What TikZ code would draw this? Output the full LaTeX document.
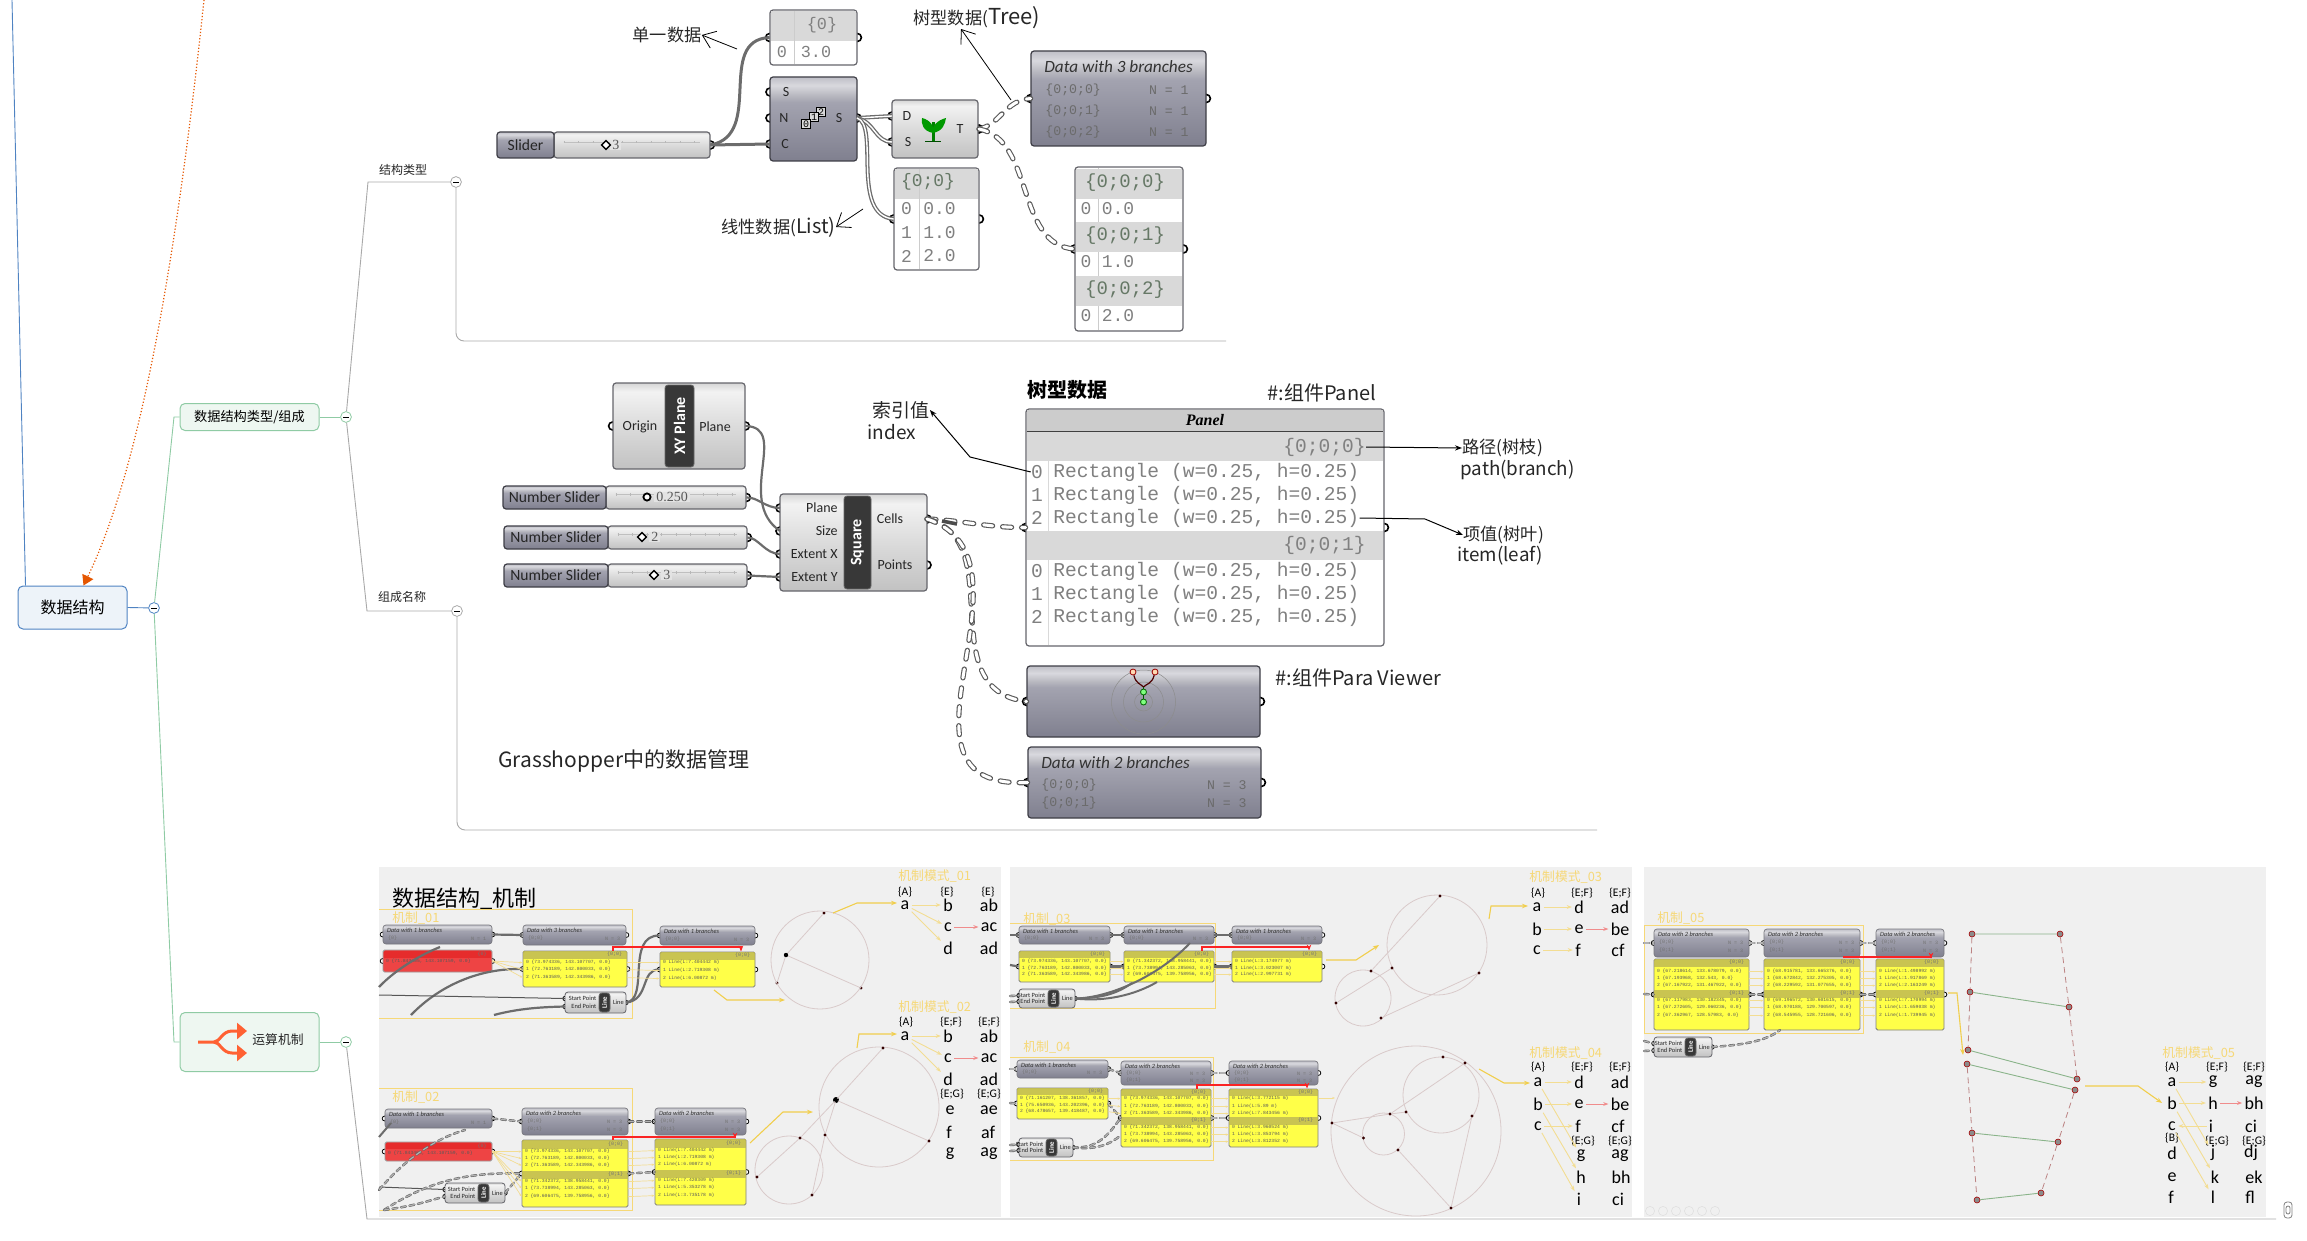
\documentclass[tikz,border=0pt]{standalone}
\usepackage{fontspec}
\setmainfont{Noto Sans CJK SC}
\setmonofont{Liberation Mono}
\newfontfamily\ghfont{Carlito}
\newfontfamily\serfont{Liberation Serif}
\usetikzlibrary{arrows.meta,calc,fit,positioning,shapes.geometric}

\definecolor{ghedge}{HTML}{3E3E46}
\definecolor{ghwirec}{HTML}{6C6C6C}
\definecolor{mapblue}{HTML}{4F83C2}
\definecolor{mapgreen}{HTML}{8FCBA4}
\definecolor{mapgray}{HTML}{A9A9A9}
\definecolor{mechyel}{HTML}{F6D877}
\definecolor{modeyel}{HTML}{F3DD92}
\definecolor{callyel}{HTML}{F1CE4C}
\definecolor{pinkc}{HTML}{F08C8C}
\definecolor{geomc}{HTML}{D9CACA}

\pgfdeclareverticalshading{ghgrayshade}{100bp}{rgb(0bp)=(.50,.50,.56); rgb(25bp)=(.50,.50,.56); rgb(60bp)=(.64,.64,.69); rgb(64bp)=(.72,.72,.75); rgb(70bp)=(.85,.85,.87); rgb(75bp)=(.75,.75,.78); rgb(100bp)=(.75,.75,.78)}
\pgfdeclareverticalshading{ghlightshade}{100bp}{rgb(0bp)=(.76,.76,.76); rgb(25bp)=(.76,.76,.76); rgb(50bp)=(.86,.86,.86); rgb(70bp)=(.95,.95,.95); rgb(75bp)=(.84,.84,.84); rgb(100bp)=(.84,.84,.84)}

\tikzset{
  ghfit/.style={rectangle,inner sep=0pt},
  ghgray/.style={draw=ghedge,line width=.6pt,rounded corners=1.5pt,shade,shading=ghgrayshade},
  ghlight/.style={draw=ghedge!80,line width=.6pt,rounded corners=1.5pt,shade,shading=ghlightshade},
  ghpanel/.style={draw=ghedge!80,line width=.6pt,rounded corners=1.5pt,fill=white},
  ghyellow/.style={draw=black!50,line width=.45pt,rounded corners=.8pt,fill={rgb,255:red,255;green,255;blue,72}},
  ghred/.style={draw=black!40,line width=.45pt,rounded corners=.8pt,fill={rgb,255:red,238;green,68;blue,68}},
  ghport/.style={draw=black,line width=.8pt,fill=white},
  ghstrip/.style={fill=black!78,draw=black!60,line width=.4pt,rounded corners=1.5pt},
  ghstriptxt/.style={text=white,font=\ghfont\bfseries\fontsize{8}{8}\selectfont,inner sep=0pt},
  ghlabel/.style={font=\ghfont\fontsize{7}{7}\selectfont,text=black!85,inner sep=0pt},
  ghmono/.style={font=\ttfamily\fontsize{8.4}{8.4}\selectfont,text=black!50,inner sep=0pt},
  ghhead/.style={fill=black!15},
  ghrowtxt/.style={font=\ttfamily\fontsize{2.35}{2.35}\selectfont,text=black!65,inner sep=0pt},
  ghtitle/.style={font=\ghfont\itshape\fontsize{3.2}{3.2}\selectfont,text=black!80,inner sep=0pt},
  ghmini/.style={font=\ttfamily\fontsize{2.5}{2.5}\selectfont,text=black!55,inner sep=0pt},
  ghbigtitle/.style={font=\ghfont\itshape\fontsize{8.6}{8.6}\selectfont,text=black!80,inner sep=0pt},
  ghbigrow/.style={font=\ttfamily\fontsize{6.6}{6.6}\selectfont,text=black!58,inner sep=0pt},
  ghmark/.style={circle,draw=black,line width=.9pt,fill=white,inner sep=0pt,minimum size=3.6pt},
  ghdiam/.style={diamond,draw=black,line width=.7pt,fill=white,inner sep=0pt,minimum size=4.6pt},
  ghval/.style={font=\serfont\fontsize{7}{7}\selectfont,text=black!65,inner xsep=1pt,inner ysep=0pt,fill=black!11},
  ghrail/.style={draw=black!25,line width=.3pt},
  ghticks/.style={draw=black!28,line width=1.4pt,dash pattern=on .25pt off 7pt},
  ghdig/.style={draw=black,line width=.5pt,fill=black!15,font=\ttfamily\fontsize{5}{5}\selectfont,inner sep=.6pt},
  ghwire/.style={draw=ghwirec,line width=1.5pt},
  ghthin/.style={draw=ghwirec!80!black,line width=.5pt},
  ghdouble/.style={draw=ghwirec,line width=.65pt,double=white,double distance=.7pt},
  ghdash/.style={draw=black!65,line width=.55pt,double=white,double distance=1.5pt,line cap=round,dash pattern=on 4.5pt off 5pt},
  ghmdash/.style={draw=black!60,line width=.3pt,double=white!70!black,double distance=.6pt,line cap=round,dash pattern=on 2.5pt off 1.8pt},
  bigtext/.style={inner sep=0pt,font=\fontsize{8.6}{8.6}\selectfont,text=black!85},
  callout/.style={draw=black,line width=.4pt,-{Straight Barb[length=6pt,width=9pt]}},
  calltip/.style={draw=black,line width=.5pt,-{Stealth[length=3.5pt]}},
  mapnode/.style={rectangle,rounded corners=2.5pt,line width=.5pt,inner sep=0pt},
  maproot/.style={mapnode,draw=mapblue,fill=mapblue!10,font=\fontsize{8}{8}\selectfont},
  mapsub/.style={mapnode,draw=mapgreen,fill=mapgreen!15,font=\fontsize{6.6}{6.6}\selectfont},
  maptxt/.style={inner sep=0pt,font=\fontsize{6}{6}\selectfont,text=black!85},
  mapball/.style={circle,fill=white,draw=#1,line width=.4pt,inner sep=0pt,minimum size=5.4pt},
  mapline/.style={draw=#1,line width=.45pt},
  mechframe/.style={draw=mechyel,line width=.5pt},
  mechlabel/.style={inner sep=0pt,font=\fontsize{6.4}{6.4}\selectfont,text=mechyel,anchor=west},
  modelabel/.style={inner sep=0pt,font=\fontsize{6.4}{6.4}\selectfont,text=mechyel,anchor=west},
  modetxt/.style={inner sep=1pt,font=\ghfont\fontsize{9}{9}\selectfont},
  modehead/.style={inner sep=0pt,font=\ghfont\fontsize{5.8}{5.8}\selectfont},
  modearrow/.style={draw=modeyel,line width=.45pt,-{Stealth[length=2.6pt]}},
  modepink/.style={draw=pinkc,line width=.5pt,-{Stealth[length=2.6pt]}},
  ythin/.style={draw=modeyel,line width=.35pt,-{Stealth[length=1.5pt]}},
  callyellow/.style={draw=callyel,line width=.55pt,-{Stealth[length=3pt]}},
  redlink/.style={draw=red!75!pinkc,line width=.7pt,-{Stealth[length=3pt]}},
  geomline/.style={draw=geomc,line width=.4pt},
  geompt/.style={circle,fill=#1,inner sep=0pt,minimum size=1.6pt},
  geompt/.default=black!80!red,
  netpt/.style={circle,draw=red!65!black,fill=black!45,line width=.3pt,inner sep=0pt,minimum size=3pt},
  netgreen/.style={draw=green!22!gray!75,line width=.45pt},
  netpink/.style={draw=red!30!gray!75,line width=.4pt,densely dashed},
  toolcirc/.style={circle,draw=black!12,line width=.3pt,inner sep=0pt,minimum size=4.6pt},
}

\newcommand{\ghportr}{4}
\newcommand{\ghnode}[6]{
  \node[ghfit,fit={(#3,#4)(#5,#6)}] (#2) {};
  \draw[ghport] (#2.west) circle (\ghportr) (#2.east) circle (\ghportr);
  \node[ghfit,#1,fit={(#3,#4)(#5,#6)}] (#2box) {};
}
\newcommand{\ghdata}[6]{
  \ghnode{ghgray}{#1}{#2}{#3}{#4}{#5}
  \node[ghtitle,anchor=west] (#1t) at ($(#1.north west)+(4,6)$) {#6};
}
\newcommand{\ghdrow}[4]{
  \node[ghmini,anchor=west] (#1a#2) at ($(#1.north west)+(5,#2)$) {#3};
  \node[ghmini,anchor=east] (#1b#2) at ($(#1.north east)+(-6,#2)$) {#4};
}
\newcommand{\ghband}[4]{
  \fill[black!35!yellow!85!white,opacity=.8] ($(#1.north west)+(.6,#2)$) rectangle ($(#1.north east)+(-.6,#3)$);
  \node[ghmini,anchor=east] (#1h#2) at ($(#1.north east)+(-5,{(#2+#3)/2})$) {#4};
}
\newcommand{\ghrows}[2]{
  \foreach \lab/\off [count=\i] in {#2}
    \node[ghrowtxt,anchor=west] (#1r\i) at ($(#1.north west)+(3,\off)$) {\lab};
}
\newcommand{\ghline}[5]{
  \coordinate (#1s) at (#2,{#3+6.5});
  \coordinate (#1e) at (#2,{#5-6.5});
  \coordinate (#1o) at (#4,{(#3+#5)/2});
  \draw[ghport,line width=.4pt] (#1s) circle (2.2) (#1e) circle (2.2) (#1o) circle (2.2);
  \node[ghfit,ghlight,line width=.4pt,fit={(#2,#3)(#4,#5)}] (#1) {};
  \node[ghfit,ghstrip,fit={({#4-27},{#3+1})({#4-16},{#5-1})}] (#1k) {};
  \node[text=white,inner sep=0pt,rotate=90,font=\ghfont\bfseries\fontsize{3.4}{3.4}\selectfont] (#1l) at (#1k.center) {Line};
  \coordinate (#1u) at ($(#1k.west)+(-2,0)$);
  \node[ghlabel,anchor=east,font=\ghfont\fontsize{3.2}{3.2}\selectfont] (#1a) at (#1u |- #1s) {Start Point};
  \node[ghlabel,anchor=east,font=\ghfont\fontsize{3.2}{3.2}\selectfont] (#1b) at (#1u |- #1e) {End Point};
  \node[ghlabel,font=\ghfont\fontsize{3.2}{3.2}\selectfont] (#1c) at ($(#1k.east)!.5!(#1.east)$) {Line};
}
\newcommand{\ghslider}[7]{
  \ghnode{ghlight}{#1}{#3}{#5}{#4}{#6}
  \draw[ghrail] ($(#1.west)+(10,-3)$) -- ($(#1.east)+(-10,-3)$);
  \draw[ghticks] ($(#1.west)+(10,-3)$) -- ($(#1.east)+(-10,-3)$);
  \node[ghfit,ghgray,fit={(#2,#5)(#3,#6)}] (#1n) {};
  \node[ghlabel,font=\ghfont\fontsize{7.8}{7.8}\selectfont] (#1x) at (#1n.center) {#7};
}

\begin{document}
\begin{tikzpicture}[x=.5pt,y=-.5pt]
\useasboundingbox (0,0) rectangle (2307,1241);

\node[maproot,minimum width=54.5pt,minimum height=21.5pt] (root) at (72.5,607.5) {数据结构};
\node[mapsub,minimum width=69.5pt,minimum height=13.5pt] (typenode) at (249.5,417) {数据结构类型/组成};
\node[mapsub,minimum width=69.5pt,minimum height=29.5pt] (calcnode) at (249.5,1042) {};
\node[maptxt,font=\fontsize{6.4}{6.4}\selectfont] (calctxt) at (278,1040) {运算机制};
\node[mapball=mapblue] (ballroot) at (154,608) {\rule{3pt}{.3pt}};
\node[mapball=mapgreen] (balltype) at (346,417) {\rule{3pt}{.3pt}};
\node[mapball=mapgreen] (ballcalc) at (346,1042) {\rule{3pt}{.3pt}};
\node[mapball=mapgray] (ballstruct) at (456,182) {\rule{3pt}{.3pt}};
\node[mapball=mapgray] (ballname) at (457,611) {\rule{3pt}{.3pt}};
\node[maptxt] (structtxt) at (403,170) {结构类型};
\node[maptxt] (nametxt) at (402,597) {组成名称};

\coordinate (bluetop) at (12,0);
\coordinate (dottop) at (204,0);
\coordinate (jt) at (174,417);
\coordinate (jb) at (174,1042);
\coordinate (js) at (368,182);
\coordinate (jn) at (367,611);
\coordinate (jc) at (367,1219);
\coordinate (es) at (1226,341);
\coordinate (en) at (1597,830);
\coordinate (ec) at (2276,1219);
\draw[mapline=mapblue] (bluetop) -- ($(root.north west)+(8,0)$);
\draw[draw=orange!75!red!90!black,line width=.6pt,densely dotted,-{Triangle[length=5pt,width=6pt]}] (dottop) .. controls (165,370) and (120,510) .. ($(root.north west)+(66,0)$);
\draw[mapline=mapblue] (root.east) -- (ballroot);
\draw[mapline=mapgreen] (ballroot) -- (jt) -- (typenode.west);
\draw[mapline=mapgreen] (ballroot) -- (jb) -- (calcnode.west);
\draw[mapline=mapgreen] (typenode.east) -- (balltype);
\draw[mapline=mapgreen] (calcnode.east) -- (ballcalc);
\draw[mapline=mapgray] (balltype) -- (js) -- (ballstruct);
\draw[mapline=mapgray] (balltype) -- (jn) -- (ballname);
\draw[mapline=mapgray] (ballcalc) -- (jc) -- (ec);
\draw[mapline=mapgray,rounded corners=4pt] (ballstruct) |- (es);
\draw[mapline=mapgray,rounded corners=4pt] (ballname) |- (en);

\coordinate (ica) at (198,1042);
\coordinate (icb) at (214,1042);
\coordinate (icc) at (247,1031);
\coordinate (icd) at (247,1053);
\draw[draw=red!55!orange!80!white,line width=1.5pt,-{Triangle[length=5pt,width=8pt]}] (ica) -- (icb) .. controls (220,1042) and (222,1031) .. (232,1031) -- (icc);
\draw[draw=red!55!orange!80!white,line width=1.5pt,-{Triangle[length=5pt,width=8pt]}] (icb) .. controls (220,1042) and (222,1053) .. (232,1053) -- (icd);

% structure types
\ghslider{sl}{497}{554}{710}{132}{158}{Slider}
\node[ghval,right=2pt of {606,145}] (slv) {3};
\node[ghdiam] (slm) at (606,145) {};

\ghnode{ghpanel}{pz}{770}{10}{857}{65}
\fill[ghhead] (770.6,10.6) rectangle (856.4,41);
\draw[black!20,line width=.3pt] (794,11) -- (794,64);
\node[ghmono] (pzh) at (822,25) {\{0\}};
\node[ghmono] (pzi) at (782,52) {0};
\node[ghmono] (pzv) at (816,52) {3.0};

\coordinate (serS) at (770,92);
\coordinate (serN) at (770,118);
\coordinate (serC) at (770,144);
\coordinate (serO) at (857,118);
\draw[ghport] (serS) circle (\ghportr) (serN) circle (\ghportr) (serC) circle (\ghportr) (serO) circle (\ghportr);
\node[ghfit,ghgray,fit={(770,77)(857,161)}] (series) {};
\node[ghlabel] (serlS) at (786,92) {S};
\node[ghlabel] (serlN) at (784,118) {N};
\node[ghlabel] (serlC) at (785,144) {C};
\node[ghlabel] (serlO) at (839,118) {S};
\node[ghdig] (dig2) at (821,112) {2};
\node[ghdig] (dig1) at (814,117) {1};
\node[ghdig] (dig0) at (806,124) {0};

\coordinate (grD) at (892,116);
\coordinate (grS) at (892,142);
\coordinate (grT) at (979,129);
\draw[ghport] (grD) circle (\ghportr) (grS) circle (\ghportr) (grT) circle (\ghportr);
\node[ghfit,ghlight,fit={(892,100)(978,158)}] (graft) {};
\node[ghlabel] (grlD) at (907,116) {D};
\node[ghlabel] (grlS) at (908,142) {S};
\node[ghlabel] (grlT) at (960,129) {T};
\fill[green!50!black] (931.5,122) rectangle (934.5,141);
\fill[green!60!black] (933,133) .. controls (923,131) and (921,124) .. (922,118) .. controls (930,120) and (935,126) .. (933,133);
\fill[green!60!black] (933,133) .. controls (943,131) and (945,124) .. (946,118) .. controls (938,120) and (931,126) .. (933,133);
\fill[green!30!black] (925,141) rectangle (941,142.5);

\ghnode{ghgray}{dthree}{1031}{51}{1206}{146}
\node[ghbigtitle,anchor=west] (dthreet) at (1044,67) {Data with 3 branches};
\foreach \lab [count=\i] in {0,1,2} {
  \node[ghbigrow,anchor=west] (dthreea\i) at (1045,{69+21*\i}) {\{0;0;\lab\}};
  \node[ghbigrow,anchor=east] (dthreeb\i) at (1189,{69+21*\i}) {N = 1};
}

\ghnode{ghpanel}{plist}{894}{168}{979}{270}
\fill[ghhead] (894.6,168.6) rectangle (978.4,199);
\draw[black!20,line width=.3pt] (919,169) -- (919,269);
\node[ghmono,font=\ttfamily\fontsize{9}{9}\selectfont,text=green!12!black!60] (plisth) at (928,182) {\{0;0\}};
\foreach \lab/\y [count=\i] in {0/209,1/233,2/256} {
  \node[ghmono,font=\ttfamily\fontsize{9}{9}\selectfont] (plisti\i) at (906.5,\y) {\lab};
  \node[ghmono,font=\ttfamily\fontsize{9}{9}\selectfont] (plistv\i) at (939.5,\y) {\lab.0};
}

\ghnode{ghpanel}{ptree}{1075}{167}{1183}{331}
\draw[black!20,line width=.3pt] (1098.5,168) -- (1098.5,330);
\foreach \lab/\y [count=\i] in {0/169,1/222,2/276} {
  \fill[ghhead] (1075.6,\y) rectangle (1182.4,{\y+30});
  \node[ghmono,font=\ttfamily\fontsize{9.5}{9.5}\selectfont,text=green!12!black!60] (ptreeh\i) at (1125,{\y+14}) {\{0;0;\lab\}};
  \node[ghmono,font=\ttfamily\fontsize{9}{9}\selectfont] (ptreei\i) at (1086,{\y+40}) {0};
  \node[ghmono,font=\ttfamily\fontsize{9}{9}\selectfont] (ptreev\i) at (1118,{\y+40}) {\lab.0};
}

\draw[ghwire] (sl.east) -- (serC);
\draw[ghwire] (sl.east) .. controls (765,135) and (715,40) .. (pz.west);
\draw[ghdouble] (serO) -- (grD);
\draw[ghdouble] (serO) .. controls (875,122) and (875,142) .. (grS);
\draw[ghdouble] (serO) .. controls (880,125) and (850,215) .. (plist.west);
\draw[ghdash] (grT) .. controls (1000,125) and (1005,100) .. (dthree.west);
\draw[ghdash] (grT) .. controls (1035,140) and (1015,245) .. (ptree.west);

\node[bigtext] (singletxt) at (667,35) {单一数据};
\node[bigtext,anchor=west] (treetxt) at (913,18) {树型数据(\fontsize{11}{11}\selectfont Tree)};
\node[bigtext,anchor=west] (listtxt) at (721,227) {线性数据(\fontsize{10}{10}\selectfont List)};
\coordinate (singlefrom) at (737,49);
\coordinate (treefrom) at (1011,100);
\coordinate (treeto) at (961,29);
\coordinate (listfrom) at (863,209);
\draw[callout] (singlefrom) -- (singletxt.east);
\draw[callout] (treefrom) -- (treeto);
\draw[callout] (listfrom) -- (listtxt.east);

% component names
\ghnode{ghlight}{xy}{613}{383}{745}{469}
\node[ghfit,ghstrip,fit={(665,385)(694,467)}] (xyk) {};
\node[ghstriptxt,rotate=90] (xyl) at (xyk.center) {XY Plane};
\node[ghlabel] (xya) at (640,427) {Origin};
\node[ghlabel] (xyb) at (715,427) {Plane};

\ghslider{sa}{503}{606}{746}{486}{509}{Number Slider}
\node[ghval,anchor=west] (sav) at (654,497) {0.250};
\node[ghmark] (sam) at (647,497) {};
\ghslider{sb}{504}{608}{747}{526}{549}{Number Slider}
\node[ghval,anchor=west] (sbv) at (649,537) {2};
\node[ghdiam] (sbm) at (642,537) {};
\ghslider{sc}{504}{608}{747}{564}{587}{Number Slider}
\node[ghval,anchor=west] (scv) at (661,575) {3};
\node[ghdiam] (scm) at (654,575) {};

\coordinate (sqP) at (780,508);
\coordinate (sqS) at (780,531);
\coordinate (sqX) at (780,554);
\coordinate (sqY) at (780,577);
\coordinate (sqC) at (927,519);
\coordinate (sqO) at (927,565);
\draw[ghport] (sqP) circle (\ghportr) (sqS) circle (\ghportr) (sqX) circle (\ghportr) (sqY) circle (\ghportr) (sqC) circle (\ghportr) (sqO) circle (\ghportr);
\node[ghfit,ghlight,fit={(780,494)(927,591)}] (square) {};
\node[ghfit,ghstrip,fit={(844,496)(871,589)}] (squarek) {};
\node[ghstriptxt,rotate=90] (squarel) at (squarek.center) {Square};
\foreach \lab/\y [count=\i] in {Plane/508,Size/531,Extent X/554,Extent Y/577}
  \node[ghlabel,anchor=east] (sql\i) at (838,\y) {\lab};
\node[ghlabel] (sqlC) at (890,519) {Cells};
\node[ghlabel] (sqlO) at (895,565) {Points};

\draw[ghwire,line width=1.1pt] (xy.east) .. controls (790,427) and (735,500) .. (sqS);
\draw[ghwire,line width=1.1pt] (sa.east) .. controls (758,497) and (765,508) .. (sqP);
\draw[ghwire,line width=1.1pt] (sb.east) .. controls (758,537) and (765,554) .. (sqX);
\draw[ghwire,line width=1.1pt] (sc.east) -- (sqY);

\ghnode{ghpanel}{pn}{1026}{409}{1384}{646}
\fill[black!20] (1026.6,409.6) rectangle (1383.4,431);
\draw[black!75,line width=1pt] (1026.6,431.5) -- (1383.4,431.5);
\draw[black!15,line width=.3pt] (1048,432) -- (1048,645);
\fill[ghhead] (1026.6,432) rectangle (1383.4,461);
\fill[ghhead] (1026.6,531) rectangle (1383.4,560);
\node[inner sep=0pt,font=\serfont\bfseries\itshape\fontsize{8}{8}\selectfont] (pntitle) at (1205,420) {Panel};
\node[ghmono,font=\ttfamily\fontsize{9.8}{9.8}\selectfont,anchor=east] (pnh) at (1366,447) {\{0;0;0\}};
\node[ghmono,font=\ttfamily\fontsize{9.8}{9.8}\selectfont,anchor=east] (pnk) at (1366,545) {\{0;0;1\}};
\foreach \lab/\y [count=\i] in {0/472,1/495,2/518,0/571,1/594,2/617} {
  \node[ghmono,font=\ttfamily\fontsize{9.8}{9.8}\selectfont] (pni\i) at (1037,\y) {\lab};
  \node[ghmono,font=\ttfamily\fontsize{9.8}{9.8}\selectfont,anchor=west] (pnr\i) at (1053,\y) {Rectangle (w=0.25, h=0.25)};
}

\ghnode{ghgray}{vw}{1027}{666}{1260}{737}
\foreach \r [count=\i] in {32,20,9}
  \draw[draw=black!45,line width=.25pt] (1143.5,702) circle (\r);
\node[circle,draw=red!60!black,fill=orange!30,line width=.4pt,inner sep=0pt,minimum size=3pt] (vwa) at (1133,672) {};
\node[circle,draw=red!60!black,fill=orange!30,line width=.4pt,inner sep=0pt,minimum size=3pt] (vwb) at (1155,672) {};
\coordinate (vwj) at (1143.5,687);
\node[circle,draw=green!40!black,fill=green!50,line width=.4pt,inner sep=0pt,minimum size=3pt] (vwc) at (1143.5,692) {};
\node[circle,draw=green!40!black,fill=green!50,line width=.4pt,inner sep=0pt,minimum size=3pt] (vwd) at (1143.5,702) {};
\draw[black!70!red,line width=.6pt] (vwa) .. controls (1136,684) and (1141,684) .. (vwj) .. controls (1146,684) and (1152,684) .. (vwb);
\draw[green!35!black,line width=.6pt] (vwj) -- (vwc) -- (vwd);

\ghnode{ghgray}{dt}{1028}{747}{1261}{818}
\node[ghbigtitle,anchor=west] (dtt) at (1041,763) {Data with 2 branches};
\foreach \lab/\y [count=\i] in {0/785,1/803} {
  \node[ghbigrow,anchor=west] (dta\i) at (1041,\y) {\{0;0;\lab\}};
  \node[ghbigrow,anchor=east] (dtb\i) at (1247,\y) {N = 3};
}

\draw[ghdash] (sqC) .. controls (960,520) and (990,528) .. (pn.west);
\draw[ghdash] (sqC) .. controls (1010,540) and (930,690) .. (vw.west);
\draw[ghdash] (sqC) .. controls (1050,560) and (870,790) .. (dt.west);
\coordinate (cellsa) at (942,521);
\coordinate (cellsb) at (957,524);
\draw[draw=black!70,line width=1.8pt] (cellsa) -- (cellsb);

\node[inner sep=0pt,font=\bfseries\fontsize{10}{10}\selectfont] (treehead) at (1067,390) {树型数据};
\node[bigtext,font=\fontsize{10}{10}\selectfont,anchor=west] (panelnote) at (1267,393) {\#:组件Panel};
\node[bigtext,font=\fontsize{10}{10}\selectfont,anchor=west] (viewnote) at (1275,678) {\#:组件Para Viewer};
\node[bigtext,font=\fontsize{10.5}{10.5}\selectfont,anchor=west] (ghnote) at (498,761) {Grasshopper中的数据管理};
\node[bigtext,font=\fontsize{9.5}{9.5}\selectfont] (idxa) at (901,410) {索引值};
\node[bigtext,font=\fontsize{9.5}{9.5}\selectfont,anchor=west] (idxb) at (867,432) {index};
\node[bigtext,anchor=west] (patha) at (1462,448) {路径(树枝)};
\node[bigtext,font=\fontsize{9.4}{9.4}\selectfont,anchor=west] (pathb) at (1460,470) {path(branch)};
\node[bigtext,anchor=west] (itema) at (1463,535) {项值(树叶)};
\node[bigtext,font=\fontsize{9.4}{9.4}\selectfont,anchor=west] (itemb) at (1457,556) {item(leaf)};
\coordinate (idxbend) at (970,457);
\coordinate (itembend) at (1425,519);
\draw[calltip] (pni1.west) -- (idxbend) -- (idxa.east);
\draw[calltip] (pnh.east) -- (patha.west);
\draw[calltip] (pnr3.east) -- (itembend) -- (itema.west);

% mechanism boards
\fill[black!6] (379,867) rectangle (1001,1217);
\fill[black!6] (1010,867) rectangle (1632,1217);
\fill[black!6] (1644,867) rectangle (2266,1217);
\node[inner sep=0pt,font=\fontsize{11}{11}\selectfont,anchor=west] (mechtitle) at (392,899) {数据结构\_机制};
\renewcommand{\ghportr}{2.4}
\tikzset{ghgray/.append style={line width=.35pt,draw=ghedge!70},ghport/.append style={line width=.4pt}}

% board 1
\draw[mechframe] (379,909) -- (632,909) -- (632,1018) -- (379,1018);
\node[mechlabel] (ml1) at (392,918) {机制\_01};
\ghdata{ma}{383}{925}{492}{944}{Data with 1 branches}
\ghdrow{ma}{14}{\{0\}}{N = 1}
\ghnode{ghred}{mb}{383}{950}{492}{972}
\fill[black!15!red,opacity=.35] (383.6,950.6) rectangle (491.4,958);
\node[ghmini,anchor=east] (mbh) at (487,954) {\{0\}};
\ghrows{mb}{{0 \{71.843465, 143.107159, 0.0\}}/12}
\ghdata{mc}{523}{925}{626}{945}{Data with 3 branches}
\ghdrow{mc}{14}{\{0;0\}}{N = 3}
\ghnode{ghyellow}{md}{523}{951}{627}{987}
\ghband{md}{0}{8}{\{0;0\}}
\ghrows{md}{{0 \{73.974336, 143.107707, 0.0\}}/12,{1 \{72.763189, 142.800033, 0.0\}}/19,{2 \{71.363589, 142.343986, 0.0\}}/27}
\ghdata{me}{660}{926}{755}{945}{Data with 1 branches}
\ghdrow{me}{14}{\{0;0\}}{N = 3}
\ghnode{ghyellow}{mf}{660}{952}{755}{987}
\ghband{mf}{0}{8}{\{0;0\}}
\ghrows{mf}{{0 Line(L:7.404442 m)}/11,{1 Line(L:2.719308 m)}/19,{2 Line(L:6.00872 m)}/27}
\ghline{mg}{565}{992}{626}{1013}
\coordinate (mwa) at (379,987);
\coordinate (mwb) at (440,947);
\coordinate (mwc) at (411,1015);
\coordinate (mwd) at (379,995);
\coordinate (mwe) at (494,1015);
\draw[ghwire,line width=1.1pt] (ma.east) -- (mc.west);
\draw[ghwire,line width=1.1pt] (mwa) .. controls (395,970) and (420,955) .. (mwb);
\draw[ghwire,line width=1.1pt] (mwc) .. controls (440,985) and (480,968) .. (md.west);
\draw[ghthin] (mwd) -- (mgs);
\draw[ghwire,line width=1.1pt] (mwe) .. controls (520,1008) and (545,1007) .. (mge);
\draw[ghwire,line width=1.1pt] (mgo) .. controls (650,1000) and (625,935) .. (me.west);
\draw[ghwire,line width=1.1pt] (mgo) .. controls (650,1000) and (640,969) .. (mf.west);
\foreach \i in {1,2,3} {
  \draw[ythin] (mb.east) -- (md.west |- mdr\i);
  \draw[ythin] (md.east |- mdr\i) -- (mf.west |- mfr\i);
}
\coordinate (mra) at (613,947);
\coordinate (mrb) at (741,947);
\draw[redlink] (mra |- md.north) -- (mra) -- (mrb) -- (mrb |- mf.north);
\node[geompt] (qa) at (786,955) {};
\node[geompt] (qb) at (824,913) {};
\node[geompt] (qc) at (777,983) {};
\node[geompt] (qd) at (861,988) {};
\draw[geomline] (820,960) circle (49);
\draw[geomline] (qa) -- (qb) (qa) -- (qc) (qa) -- (qd);
\fill[black] (qa) circle (2.2);
\draw[callyellow] (714,990) -- (727,1000) -- (785,1000);
\draw[callyellow] (833,913) -- (857,903) -- (897,903);
\node[modelabel] (mt1) at (898,876) {机制模式\_01};
\foreach \n/\lab/\x in {a/\{A\}/905,b/\{E\}/947,c/\{E\}/988}
  \node[modehead] (o1h\n) at (\x,892) {\lab};
\foreach \n/\x/\y in {a/905/905,b/948/905,c/948/927,d/948/948,ab/989/905,ac/989/927,ad/989/948}
  \node[modetxt] (o1\n) at (\x,\y) {\n};
\draw[modearrow] (o1a) -- (o1b);
\draw[modearrow] (o1a) -- (o1c);
\draw[modearrow] (o1a) -- (o1d);
\draw[modepink] (o1c) -- (o1ac);

% board 2
\draw[mechframe] (379,1088) -- (632,1088) -- (632,1210) -- (379,1210);
\node[mechlabel] (ml2) at (392,1097) {机制\_02};
\ghdata{na}{385}{1109}{492}{1128}{Data with 1 branches}
\ghdrow{na}{14}{\{0\}}{N = 1}
\ghnode{ghred}{nb}{385}{1142}{492}{1161}
\fill[black!15!red,opacity=.35] (385.6,1142.6) rectangle (491.4,1149);
\node[ghmini,anchor=east] (nbh) at (487,1146) {\{0\}};
\ghrows{nb}{{0 \{71.843465, 143.107159, 0.0\}}/12}
\ghdata{nc}{522}{1108}{628}{1135}{Data with 2 branches}
\ghdrow{nc}{14}{\{0;0\}}{N = 3}
\ghdrow{nc}{22}{\{0;1\}}{N = 3}
\ghnode{ghyellow}{nd}{522}{1140}{628}{1207}
\ghband{nd}{0}{9}{\{0;0\}}
\ghband{nd}{31}{39}{\{0;1\}}
\ghrows{nd}{{0 \{73.974336, 143.107707, 0.0\}}/12,{1 \{72.763189, 142.800033, 0.0\}}/19,{2 \{71.363589, 142.343986, 0.0\}}/26,{0 \{71.342372, 138.958441, 0.0\}}/42,{1 \{73.738994, 143.285063, 0.0\}}/49,{2 \{69.606475, 139.758956, 0.0\}}/57}
\ghdata{ne}{655}{1108}{746}{1135}{Data with 2 branches}
\ghdrow{ne}{14}{\{0;0\}}{N = 3}
\ghdrow{ne}{22}{\{0;1\}}{N = 3}
\ghnode{ghyellow}{nf}{655}{1139}{746}{1205}
\ghband{nf}{0}{9}{\{0;0\}}
\ghband{nf}{31}{39}{\{0;1\}}
\ghrows{nf}{{0 Line(L:7.404442 m)}/12,{1 Line(L:2.719308 m)}/19,{2 Line(L:6.00872 m)}/26,{0 Line(L:7.420309 m)}/42,{1 Line(L:5.353278 m)}/49,{2 Line(L:3.735178 m)}/57}
\ghline{ng}{445}{1183}{505}{1203}
\coordinate (nwa) at (379,1187);
\coordinate (nwb) at (384,1210);
\coordinate (nwc) at (379,1190);
\coordinate (nwd) at (465,1130);
\coordinate (nwe) at (379,1137);
\coordinate (nwf) at (391,1123);
\draw[ghthin] (nwa) -- (ngs);
\draw[ghwire,line width=1pt] (nwe) -- (nwf);
\draw[ghmdash] (nwb) .. controls (430,1180) and (470,1172) .. (nd.west);
\draw[ghmdash] (nwc) .. controls (400,1165) and (430,1140) .. (nwd);
\draw[ghmdash] (nwb) .. controls (420,1205) and (430,1200) .. (nge);
\draw[ghmdash] (na.east) -- (nc.west);
\draw[ghmdash] (nc.east) -- (ne.west);
\draw[ghmdash] (ngo) -- (nd.west);
\draw[ghmdash] (nd.east) -- (nf.west);
\foreach \i in {1,2,3,4,5,6} {
  \draw[ythin] (nb.east) -- (nd.west |- ndr\i);
  \draw[ythin] (nd.east |- ndr\i) -- (nf.west |- nfr\i);
}
\coordinate (nra) at (613,1137);
\coordinate (nrb) at (735,1137);
\draw[redlink] (nra |- nd.north) -- (nra) -- (nrb) -- (nrb |- nf.north);
\draw[geomline] (879,1107) circle (60);
\draw[geomline] (789,1170) circle (34);
\node[geompt] (ra) at (836,1100) {};
\node[geompt] (rb) at (883,1048) {};
\node[geompt] (rc) at (929,1141) {};
\node[geompt] (rd) at (825,1135) {};
\node[geompt] (re) at (800,1138) {};
\node[geompt] (rf) at (757,1177) {};
\node[geompt] (rg) at (812,1195) {};
\fill[black] (ra) circle (3);
\draw[geomline] (ra) -- (rb) (ra) -- (rc) (ra) -- (rd) (ra) -- (re) (re) -- (rf) (rd) -- (rg);
\draw[callyellow] (750,1143) -- (783,1112) -- (813,1112);
\draw[callyellow] (857,1048) -- (859,1034) -- (897,1034);
\node[modelabel] (mt2) at (898,1007) {机制模式\_02};
\foreach \n/\lab/\x/\y in {a/\{A\}/906/1022,b/\{E;F\}/951/1022,c/\{E;F\}/989/1022,d/\{E;G\}/952/1094,e/\{E;G\}/989/1094}
  \node[modehead] (o2h\n) at (\x,\y) {\lab};
\foreach \n/\x/\y in {a/905/1036,b/948/1036,c/948/1058,d/948/1079,e/950/1110,f/949/1132,g/950/1154,ab/989/1036,ac/989/1058,ad/989/1079,ae/989/1110,af/988/1132,ag/989/1154}
  \node[modetxt] (o2\n) at (\x,\y) {\n};
\draw[modearrow] (o2a) -- (o2b);
\draw[modearrow] (o2a) -- (o2c);
\draw[modearrow] (o2a) -- (o2d);
\draw[modepink] (o2c) -- (o2ac);

% board 3
\draw[mechframe] (1010,923) -- (1215,923) -- (1215,1008) -- (1010,1008);
\node[mechlabel] (ml3) at (1023,919) {机制\_03};
\ghdata{ca}{1019}{926}{1110}{944}{Data with 1 branches}
\ghdrow{ca}{13}{\{0;0\}}{N = 3}
\ghnode{ghyellow}{cb}{1019}{951}{1110}{982}
\ghband{cb}{0}{7}{\{0;0\}}
\ghrows{cb}{{0 \{73.974336, 143.107707, 0.0\}}/11,{1 \{72.763189, 142.800033, 0.0\}}/17.5,{2 \{71.363589, 142.343986, 0.0\}}/24}
\ghdata{cc}{1124}{926}{1214}{944}{Data with 1 branches}
\ghdrow{cc}{13}{\{0;0\}}{N = 3}
\ghnode{ghyellow}{cd}{1124}{951}{1214}{982}
\ghband{cd}{0}{7}{\{0;0\}}
\ghrows{cd}{{0 \{71.342372, 138.958441, 0.0\}}/11,{1 \{73.738994, 143.285063, 0.0\}}/17.5,{2 \{69.606475, 139.758956, 0.0\}}/24}
\ghdata{ce}{1232}{926}{1322}{944}{Data with 1 branches}
\ghdrow{ce}{13}{\{0;0\}}{N = 3}
\ghnode{ghyellow}{cf}{1232}{951}{1322}{982}
\ghband{cf}{0}{7}{\{0;0\}}
\ghrows{cf}{{0 Line(L:3.174977 m)}/11,{1 Line(L:3.023007 m)}/17.5,{2 Line(L:2.997731 m)}/24}
\ghline{cg}{1019}{989}{1075}{1008}
\coordinate (cwa) at (1010,935);
\coordinate (cwb) at (1010,965);
\coordinate (cwc) at (1010,996);
\coordinate (cwd) at (1010,1002);
\coordinate (cwe) at (1190,943);
\coordinate (cwf) at (1132,983);
\coordinate (cwg) at (1157,982);
\draw[ghwire,line width=1.1pt] (cwa) -- (ca.west);
\draw[ghwire,line width=1.1pt] (cwb) -- (cb.west);
\draw[ghwire,line width=1.1pt] (ca.east) -- (cc.west);
\draw[ghwire,line width=1.1pt] (cb.east) -- (cd.west);
\draw[ghwire,line width=1.1pt] (cc.east) -- (ce.west);
\draw[ghwire,line width=1.1pt] (cd.east) -- (cf.west);
\draw[ghmdash] (cwc) -- (cgs);
\draw[ghmdash] (cwd) -- (cge);
\draw[ghwire,line width=1pt] (cgo) .. controls (1110,998) and (1160,975) .. (cwe);
\draw[ghwire,line width=1pt] (cgo) .. controls (1100,998) and (1115,995) .. (cwf);
\draw[ghwire,line width=1pt] (cgo) .. controls (1105,1002) and (1135,995) .. (cwg);
\foreach \i in {1,2,3} {
  \draw[ythin] (cb.east |- cbr\i) -- (cd.west |- cdr\i);
  \draw[ythin] (cd.east |- cdr\i) -- (cf.west |- cfr\i);
}
\coordinate (cra) at (1202,947);
\coordinate (crb) at (1309,947);
\draw[redlink] (cra |- cd.north) -- (cra) -- (crb) -- (crb |- cf.north);
\draw[geomline] (1437,945) circle (50);
\draw[geomline] (1363,998) circle (28);
\node[geompt] (sa1) at (1440,896) {};
\node[geompt] (sa2) at (1392,968) {};
\node[geompt] (sa3) at (1371,971) {};
\node[geompt] (sa4) at (1336,1003) {};
\node[geompt] (sa5) at (1381,1018) {};
\node[geompt] (sa6) at (1479,973) {};
\draw[geomline] (sa1) -- (sa3) (sa2) -- (sa4) (sa5) -- (sa6);
\draw[callyellow] (1326,960) -- (1356,960) -- (1379,945);
\draw[callyellow] (1489,919) -- (1491,906) -- (1528,906);
\node[modelabel] (mt3) at (1529,877) {机制模式\_03};
\foreach \n/\lab/\x in {a/\{A\}/1538,b/\{E;F\}/1582,c/\{E;F\}/1620}
  \node[modehead] (o3h\n) at (\x,893) {\lab};
\foreach \n/\x/\y in {a/1537/907,d/1579/907,ad/1620/907,b/1537/929,e/1579/929,be/1620/929,c/1537/950,f/1578/950,cf/1618/950}
  \node[modetxt] (o3\n) at (\x,\y) {\n};
\draw[modearrow] (o3a) -- (o3d);
\draw[modearrow] (o3b) -- (o3e);
\draw[modearrow] (o3c) -- (o3f);
\draw[modepink] (o3e) -- (o3be);

% board 4
\draw[mechframe] (1010,1057) -- (1213,1057) -- (1213,1160) -- (1010,1160);
\node[mechlabel] (ml4) at (1023,1047) {机制\_04};
\ghdata{da}{1017}{1060}{1108}{1078}{Data with 1 branches}
\ghdrow{da}{13}{\{0;0\}}{N = 3}
\ghnode{ghyellow}{db}{1017}{1088}{1108}{1119}
\ghband{db}{0}{7}{\{0;0\}}
\ghrows{db}{{0 \{71.161207, 138.361857, 0.0\}}/11,{1 \{75.650936, 143.202396, 0.0\}}/17.5,{2 \{68.478657, 139.418487, 0.0\}}/24}
\ghdata{dc}{1121}{1061}{1211}{1085}{Data with 2 branches}
\ghdrow{dc}{13}{\{0;0\}}{N = 3}
\ghdrow{dc}{20}{\{0;1\}}{N = 3}
\ghnode{ghyellow}{dd}{1121}{1089}{1211}{1147}
\ghband{dd}{0}{7}{\{0;0\}}
\ghband{dd}{28}{36}{\{0;1\}}
\ghrows{dd}{{0 \{73.974336, 143.107707, 0.0\}}/10,{1 \{72.763189, 142.800033, 0.0\}}/18,{2 \{71.363589, 142.343986, 0.0\}}/25,{0 \{71.342372, 138.958441, 0.0\}}/39,{1 \{73.738994, 143.285063, 0.0\}}/46,{2 \{69.606475, 139.758956, 0.0\}}/53}
\ghdata{de}{1229}{1061}{1318}{1085}{Data with 2 branches}
\ghdrow{de}{13}{\{0;0\}}{N = 3}
\ghdrow{de}{20}{\{0;1\}}{N = 3}
\ghnode{ghyellow}{df}{1229}{1089}{1318}{1147}
\ghband{df}{0}{7}{\{0;0\}}
\ghband{df}{28}{36}{\{0;1\}}
\ghrows{df}{{0 Line(L:3.772115 m)}/10,{1 Line(L:5.89 m)}/18,{2 Line(L:7.843456 m)}/25,{0 Line(L:3.960524 m)}/39,{1 Line(L:3.853794 m)}/46,{2 Line(L:3.812352 m)}/53}
\ghline{dg}{1019}{1138}{1073}{1157}
\coordinate (dwa) at (1010,1069);
\coordinate (dwb) at (1010,1103);
\coordinate (dwc) at (1010,1145);
\coordinate (dwd) at (1010,1151);
\coordinate (dwe) at (1121,1135);
\draw[ghmdash] (dwa) -- (da.west);
\draw[ghmdash] (dwb) -- (db.west);
\draw[ghmdash] (dwc) -- (dgs);
\draw[ghmdash] (dwd) -- (dge);
\draw[ghmdash] (da.east) -- (dc.west);
\draw[ghmdash] (dc.east) -- (de.west);
\draw[ghmdash] (db.east) -- (dd.west);
\draw[ghmdash] (dd.east) -- (df.west);
\draw[ghmdash] (dgo) .. controls (1095,1148) and (1105,1140) .. (dd.west);
\draw[ghmdash] (dgo) .. controls (1095,1150) and (1110,1145) .. (dwe);
\foreach \i in {1,2,3,4,5,6}
  \draw[ythin] (dd.east |- ddr\i) -- (df.west |- dfr\i);
\foreach \i in {1,2,3}
  \draw[ythin] (db.east |- dbr\i) -- (dd.west |- ddr\i);
\coordinate (dra) at (1197,1085);
\coordinate (drb) at (1307,1085);
\draw[redlink] (dra |- dd.north) -- (dra) -- (drb) -- (drb |- df.north);
\draw[geomline] (1416,1131) circle (85);
\draw[geomline] (1441,1095) circle (38);
\draw[geomline] (1383.5,1134) circle (21);
\node[geompt] (ua) at (1332,1123) {};
\node[geompt] (ub) at (1390,1114) {};
\node[geompt] (uc) at (1363.5,1138) {};
\node[geompt] (ud) at (1398,1150) {};
\node[geompt] (ue) at (1451,1208) {};
\node[geompt] (uf) at (1472,1116) {};
\node[geompt] (ug) at (1406,1112) {};
\node[geompt] (uh) at (1443,1057) {};
\node[geompt] (ui) at (1465,1063) {};
\draw[geomline] (ua) -- (ub) (ua) -- (uc) (ub) -- (ui) (ub) -- (ug) (ud) -- (ue) (ue) -- (uf);
\draw[ythin] (1319,1098) -- (1335,1098);
\draw[callyellow] (1479,1069) -- (1504,1083) -- (1530,1083);
\node[modelabel] (mt4) at (1529,1053) {机制模式\_04};
\foreach \n/\lab/\x/\y in {a/\{A\}/1538/1067,b/\{E;F\}/1582/1067,c/\{E;F\}/1620/1067,d/\{E;G\}/1583/1141,e/\{E;G\}/1620/1141}
  \node[modehead] (o4h\n) at (\x,\y) {\lab};
\foreach \n/\x/\y in {a/1538/1082,d/1579/1082,ad/1620/1082,b/1538/1104,e/1579/1104,be/1620/1104,c/1538/1126,f/1578/1126,cf/1618/1126,g/1581/1156,ag/1620/1156,h/1581/1177,bh/1621/1177,i/1579/1199,ci/1618/1199}
  \node[modetxt] (o4\n) at (\x,\y) {\n};
\draw[modearrow] (o4a) -- (o4d);
\draw[modearrow] (o4b) -- (o4e);
\draw[modearrow] (o4c) -- (o4f);
\draw[modearrow] (o4a) -- (o4g);
\draw[modearrow] (o4b) -- (o4h);
\draw[modearrow] (o4c) -- (o4i);
\draw[modepink] (o4e) -- (o4be);

% board 5
\draw[mechframe] (1644,925) rectangle (1863,1033);
\node[mechlabel] (ml5) at (1657,918) {机制\_05};
\ghdata{ea}{1654}{929}{1749}{957}{Data with 2 branches}
\ghdrow{ea}{14}{\{0;0\}}{N = 3}
\ghdrow{ea}{22}{\{0;1\}}{N = 3}
\ghnode{ghyellow}{eb}{1654}{959}{1749}{1030}
\ghband{eb}{0}{8}{\{0;0\}}
\ghband{eb}{31}{39}{\{0;1\}}
\ghrows{eb}{{0 \{67.218614, 133.678079, 0.0\}}/13,{1 \{67.193968, 132.543, 0.0\}}/20,{2 \{67.167922, 131.467922, 0.0\}}/27,{0 \{67.117983, 130.182345, 0.0\}}/42,{1 \{67.272605, 129.060236, 0.0\}}/49,{2 \{67.362967, 128.57983, 0.0\}}/57}
\ghdata{ec}{1764}{929}{1860}{957}{Data with 2 branches}
\ghdrow{ec}{14}{\{0;0\}}{N = 3}
\ghdrow{ec}{22}{\{0;1\}}{N = 3}
\ghnode{ghyellow}{ed}{1764}{959}{1860}{1030}
\ghband{ed}{0}{8}{\{0;0\}}
\ghband{ed}{31}{39}{\{0;1\}}
\ghrows{ed}{{0 \{68.915781, 133.665376, 0.0\}}/13,{1 \{68.672842, 132.275305, 0.0\}}/20,{2 \{68.229592, 131.077655, 0.0\}}/27,{0 \{69.196572, 130.601615, 0.0\}}/42,{1 \{68.970188, 129.700597, 0.0\}}/49,{2 \{68.545955, 128.721606, 0.0\}}/57}
\ghdata{ee}{1876}{929}{1944}{957}{Data with 2 branches}
\ghdrow{ee}{14}{\{0;0\}}{N = 3}
\ghdrow{ee}{22}{\{0;1\}}{N = 3}
\ghnode{ghyellow}{ef}{1876}{959}{1944}{1030}
\ghband{ef}{0}{8}{\{0;0\}}
\ghband{ef}{31}{39}{\{0;1\}}
\ghrows{ef}{{0 Line(L:1.498992 m)}/13,{1 Line(L:1.917869 m)}/20,{2 Line(L:2.163249 m)}/27,{0 Line(L:7.170994 m)}/42,{1 Line(L:1.659038 m)}/49,{2 Line(L:1.739945 m)}/57}
\ghline{eg}{1654}{1037}{1712}{1057}
\coordinate (ewa) at (1644,943);
\coordinate (ewb) at (1644,994);
\coordinate (ewc) at (1644,1041);
\coordinate (ewd) at (1644,1051);
\coordinate (ewe) at (1780,1030);
\draw[ghmdash] (ewa) -- (ea.west);
\draw[ghmdash] (ewb) -- (eb.west);
\draw[ghmdash] (ewc) -- (egs);
\draw[ghmdash] (ewd) -- (ege);
\draw[ghmdash] (ea.east) -- (ec.west);
\draw[ghmdash] (ec.east) -- (ee.west);
\draw[ghmdash] (eb.east) -- (ed.west);
\draw[ghmdash] (ed.east) -- (ef.west);
\draw[ghmdash] (ego) .. controls (1740,1045) and (1765,1042) .. (ewe);
\foreach \i in {1,2,3,4,5,6} {
  \draw[ythin] (eb.east |- ebr\i) -- (ed.west |- edr\i);
  \draw[ythin] (ed.east |- edr\i) -- (ef.west |- efr\i);
}
\coordinate (era) at (1843,957);
\coordinate (erb) at (1931,957);
\draw[redlink] (era) -- (erb) -- (erb |- ef.north);
\foreach \n/\x/\y in {1/1972/934,2/2060/934,3/1970/992,4/2069/1007,5/1968/1050,6/2077/1079,7/1967/1064,8/2075/1090,9/1972/1133,10/2058/1142,11/1977/1200,12/2041/1193}
  \node[netpt] (np\n) at (\x,\y) {};
\draw[netgreen] (np1) -- (np2) (np3) -- (np4) (np5) -- (np6) (np7) -- (np8) (np9) -- (np10) (np11) -- (np12);
\draw[netpink] (np1) -- (np3) -- (np5) (np2) -- (np4) -- (np6) (np7) -- (np9) -- (np11) (np8) -- (np10) -- (np12);
\draw[callyellow] (1948,993) -- (1957,993) -- (1963,1055);
\draw[callyellow] (2085,1086) -- (2138,1086) -- (2162,1103);
\node[modelabel] (mt5) at (2162,1053) {机制模式\_05};
\foreach \n/\lab/\x/\y in {a/\{A\}/2172/1067,b/\{E;F\}/2217/1067,c/\{E;F\}/2254/1067,d/\{B\}/2172/1138,e/\{E;G\}/2217/1141,f/\{E;G\}/2254/1141}
  \node[modehead] (o5h\n) at (\x,\y) {\lab};
\foreach \n/\x/\y in {a/2172/1082,g/2213/1082,ag/2254/1082,b/2172/1103,h/2213/1103,bh/2254/1103,c/2172/1126,i/2211/1126,ci/2251/1126,d/2172/1153,j/2213/1153,dj/2251/1153,e/2172/1177,k/2215/1177,ek/2254/1177,f/2171/1197,l/2213/1197,fl/2250/1197}
  \node[modetxt] (o5\n) at (\x,\y) {\n};
\draw[modearrow] (o5a) -- (o5g);
\draw[modearrow] (o5b) -- (o5h);
\draw[modearrow] (o5i) -- (o5c);
\draw[modearrow] (o5a) -- (o5j);
\draw[modearrow] (o5b) -- (o5k);
\draw[modearrow] (o5c) -- (o5l);
\draw[modepink] (o5h) -- (o5bh);

\foreach \x [count=\i] in {1650,1663,1676,1689,1702,1715}
  \node[toolcirc] (tb\i) at (\x,1211) {};
\draw[draw=black!50,line width=.4pt,rounded corners=1.5pt] (2284,1202) rectangle (2292,1218);
\draw[draw=black!50,line width=.4pt,rounded corners=1pt] (2286,1206) rectangle (2290,1214);
\end{tikzpicture}
\end{document}
